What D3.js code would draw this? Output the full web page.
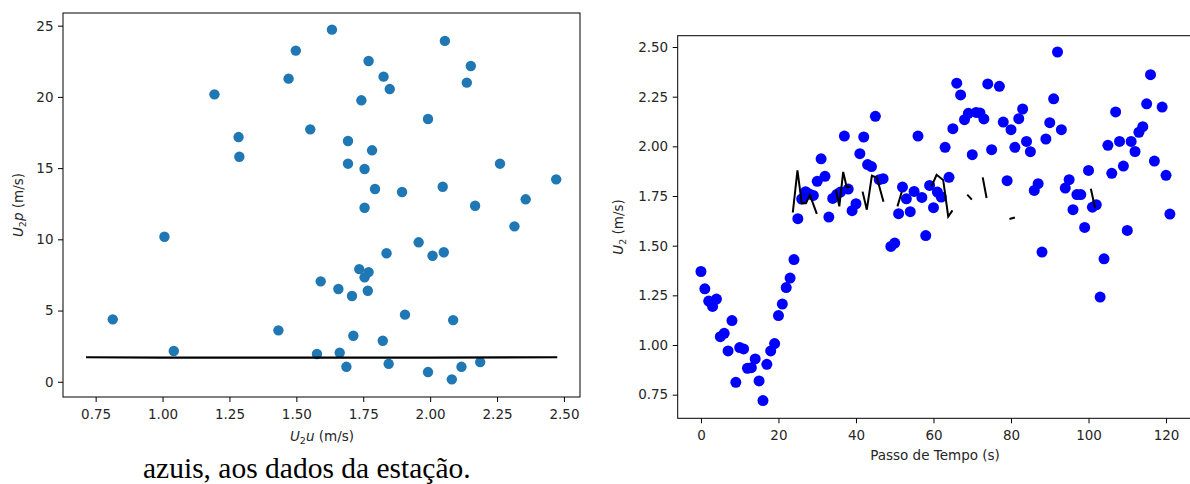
<!DOCTYPE html>
<html>
<head>
<meta charset="utf-8">
<script src="https://cdn.jsdelivr.net/npm/d3@7"></script>
<style>
  body { margin: 0; background: #fff; }
  svg { display: block; font-family: 'DejaVu Sans', sans-serif; }
</style>
</head>
<body>
<div id="chart"></div>
<script>
// left panel: U2u x U2p scatter
const u2u = [0.814, 1.007, 1.042, 1.194, 1.284, 1.287, 1.433, 1.471, 1.498, 1.552, 1.577, 1.591, 1.633, 1.657,
  1.662, 1.687, 1.693, 1.693, 1.708, 1.713, 1.735, 1.743, 1.755, 1.755, 1.755, 1.767, 1.770, 1.770, 1.783,
  1.794, 1.823, 1.826, 1.837, 1.845, 1.849, 1.895, 1.906, 1.957, 1.992, 1.992, 2.009, 2.047, 2.051, 2.055,
  2.081, 2.086, 2.117, 2.137, 2.152, 2.168, 2.187, 2.261, 2.315, 2.357, 2.471];
const u2p = [4.38, 10.18, 2.16, 20.18, 17.18, 15.80, 3.61, 21.28, 23.25, 17.72, 1.95, 7.05, 24.72, 6.51,
  2.04, 1.05, 16.90, 15.31, 6.02, 3.23, 7.91, 19.76, 14.94, 12.22, 7.33, 6.39, 22.52, 7.70, 16.25,
  13.53, 2.88, 21.42, 9.02, 1.26, 20.55, 13.32, 4.71, 9.79, 18.45, 0.68, 8.85, 13.69, 9.09, 23.93,
  0.17, 4.33, 1.05, 21.00, 22.17, 12.36, 1.38, 15.31, 10.91, 12.81, 14.21];
// black line in the left panel
const ajusteU = [0.714, 1.0, 1.6, 2.0, 2.475];
const ajusteP = [1.72, 1.70, 1.69, 1.70, 1.72];
const leftXTicks = [0.75, 1.0, 1.25, 1.5, 1.75, 2.0, 2.25, 2.5];
const leftYTicks = [0, 5, 10, 15, 20, 25];

// right panel: U2 over time
const passoTempo = [0, 1, 2, 3, 4, 5, 6, 7, 8, 9, 10, 11, 12, 13, 14, 15, 16, 17, 18, 19, 20, 21, 22, 23, 24,
  25, 26, 27, 28, 29, 30, 31, 32, 33, 34, 35, 36, 37, 38, 39, 40, 41, 42, 43, 44, 45, 46, 47, 49, 50,
  51, 52, 53, 54, 55, 56, 57, 58, 59, 60, 61, 62, 63, 64, 65, 66, 67, 68, 69, 70, 71, 72, 73, 74, 75,
  77, 78, 79, 80, 81, 82, 83, 84, 85, 86, 87, 88, 89, 90, 91, 92, 93, 94, 95, 96, 97, 98, 99, 100,
  101, 102, 103, 104, 105, 106, 107, 108, 109, 110, 111, 112, 113, 114, 115, 116, 117, 119, 120, 121];
const u2 = [1.370, 1.283, 1.221, 1.194, 1.231, 1.042, 1.059, 0.970, 1.123, 0.812, 0.987, 0.980, 0.883, 0.886,
  0.930, 0.819, 0.720, 0.903, 0.970, 1.007, 1.148, 1.206, 1.289, 1.337, 1.430,
  1.636, 1.735, 1.772, 1.760, 1.753, 1.824, 1.937, 1.849, 1.644, 1.738, 1.757, 1.770, 2.052, 1.785, 1.676,
  1.711, 1.963, 2.047, 1.908, 1.898, 2.151, 1.832, 1.837, 1.496, 1.513,
  1.661, 1.795, 1.736, 1.671, 1.773, 2.052, 1.743, 1.551, 1.803, 1.691, 1.770, 1.745, 1.995, 1.844, 2.089,
  2.318, 2.259, 2.134, 2.166, 1.958, 2.171, 2.168, 2.138, 2.314, 1.983,
  2.302, 2.122, 1.827, 2.084, 1.995, 2.139, 2.188, 2.025, 1.973, 1.778, 1.812, 1.468, 2.037, 2.119, 2.239,
  2.475, 2.084, 1.790, 1.832, 1.681, 1.757, 1.757, 1.592, 1.879,
  1.694, 1.706, 1.241, 1.434, 2.005, 1.864, 2.173, 2.025, 1.901, 1.577, 2.025, 1.974, 2.071, 2.099, 2.214,
  2.361, 1.926, 2.198, 1.854, 1.659];
// black broken line (null = gap)
const modeloT = [23.7, 24.9, 26.0, 27.1, 28.1, 29.9, null, 34.8, 35.7, 36.7, 37.6, 38.6, null,
  41.7, 42.8, 44.1, 45.4, 47.1, null, 50.7, 51.8, null, 59.5, 60.8, 62.5, 63.8, 64.9, null,
  68.7, 69.9, null, 72.7, 73.7, null, 79.6, 81.0, null, 100.6, 101.7];
const modeloU2 = [1.667, 1.879, 1.714, 1.714, 1.756, 1.660, null, 1.782, 1.698, 1.871, 1.795, 1.795, null,
  1.772, 1.681, 1.852, 1.842, 1.721, null, 1.698, 1.770, null, 1.798, 1.857, 1.831, 1.647, 1.678, null,
  1.757, 1.732, null, 1.844, 1.740, null, 1.634, 1.642, null, 1.787, 1.690];
const rightXTicks = [0, 20, 40, 60, 80, 100, 120];
const rightYTicks = [0.75, 1.0, 1.25, 1.5, 1.75, 2.0, 2.25, 2.5];

const legenda = 'azuis, aos dados da estação.';

const svg = d3.select('#chart')
  .append('svg')
  .attr('width', 1190)
  .attr('height', 484);

svg.append('rect').attr('width', 1190).attr('height', 484).attr('fill', '#fff');

const styleAxis = (g) => {
  g.select('.domain').remove();
  g.selectAll('.tick line').attr('stroke', '#000').attr('stroke-width', 1);
  g.selectAll('.tick text').attr('fill', '#262626').style('font-size', '13.5px')
    .style('font-family', "'DejaVu Sans', sans-serif");
};

const frame = (x, y) => {
  const [x0, x1] = x.range();
  const [y0, y1] = y.range();
  svg.append('rect')
    .attr('x', x0).attr('y', y1)
    .attr('width', x1 - x0).attr('height', y0 - y1)
    .attr('fill', 'none').attr('stroke', '#000').attr('stroke-width', 1);
};

// ---------- left panel ----------
const xL = d3.scaleLinear().domain([0.628, 2.56]).range([63, 580]);
const yL = d3.scaleLinear().domain([-1.07, 25.89]).range([397, 13]);

svg.append('g')
  .attr('transform', `translate(0,${yL.range()[0]})`)
  .call(d3.axisBottom(xL).tickValues(leftXTicks).tickFormat(d3.format('.2f')).tickSize(5).tickPadding(7))
  .call(styleAxis);
svg.append('g')
  .attr('transform', `translate(${xL.range()[0]},0)`)
  .call(d3.axisLeft(yL).tickValues(leftYTicks).tickFormat(d3.format('d')).tickSize(5).tickPadding(4.5))
  .call(styleAxis);

svg.append('g')
  .selectAll('circle')
  .data(d3.zip(u2u, u2p))
  .join('circle')
  .attr('cx', (d) => xL(d[0]))
  .attr('cy', (d) => yL(d[1]))
  .attr('r', 5.2)
  .attr('fill', '#1f77b4');

svg.append('path')
  .datum(d3.zip(ajusteU, ajusteP))
  .attr('fill', 'none')
  .attr('stroke', '#000')
  .attr('stroke-width', 2.2)
  .attr('d', d3.line().x((d) => xL(d[0])).y((d) => yL(d[1])));

frame(xL, yL);

const labL = svg.append('text')
  .attr('x', 322).attr('y', 441)
  .attr('text-anchor', 'middle')
  .attr('fill', '#262626')
  .style('font-size', '13.5px');
labL.append('tspan').style('font-style', 'italic').text('U');
labL.append('tspan').attr('dy', 3).style('font-size', '9.5px').text('2');
labL.append('tspan').attr('dy', -3).style('font-style', 'italic').text('u');
labL.append('tspan').text(' (m/s)');

const labLy = svg.append('text')
  .attr('transform', 'translate(23,205) rotate(-90)')
  .attr('text-anchor', 'middle')
  .attr('fill', '#262626')
  .style('font-size', '13.5px');
labLy.append('tspan').style('font-style', 'italic').text('U');
labLy.append('tspan').attr('dy', 3).style('font-size', '9.5px').text('2');
labLy.append('tspan').attr('dy', -3).style('font-style', 'italic').text('p');
labLy.append('tspan').text(' (m/s)');

// ---------- right panel ----------
const xR = d3.scaleLinear().domain([-6.0, 126.7]).range([677.7, 1192]);
const yR = d3.scaleLinear().domain([0.631, 2.557]).range([418.3, 35.7]);

svg.append('g')
  .attr('transform', `translate(0,${yR.range()[0]})`)
  .call(d3.axisBottom(xR).tickValues(rightXTicks).tickFormat(d3.format('d')).tickSize(5).tickPadding(7))
  .call(styleAxis);
svg.append('g')
  .attr('transform', `translate(${xR.range()[0]},0)`)
  .call(d3.axisLeft(yR).tickValues(rightYTicks).tickFormat(d3.format('.2f')).tickSize(5).tickPadding(4.5))
  .call(styleAxis);

svg.append('g')
  .selectAll('circle')
  .data(d3.zip(passoTempo, u2))
  .join('circle')
  .attr('cx', (d) => xR(d[0]))
  .attr('cy', (d) => yR(d[1]))
  .attr('r', 5.5)
  .attr('fill', '#0000ff');

svg.append('path')
  .datum(d3.zip(modeloT, modeloU2))
  .attr('fill', 'none')
  .attr('stroke', '#000')
  .attr('stroke-width', 2)
  .attr('stroke-linejoin', 'miter')
  .attr('d', d3.line()
    .defined((d) => d[0] !== null)
    .x((d) => xR(d[0]))
    .y((d) => yR(d[1])));

frame(xR, yR);

svg.append('text')
  .attr('x', 935).attr('y', 460)
  .attr('text-anchor', 'middle')
  .attr('fill', '#262626')
  .style('font-size', '13.5px')
  .text('Passo de Tempo (s)');

const labRy = svg.append('text')
  .attr('transform', 'translate(623,227) rotate(-90)')
  .attr('text-anchor', 'middle')
  .attr('fill', '#262626')
  .style('font-size', '13.5px');
labRy.append('tspan').style('font-style', 'italic').text('U');
labRy.append('tspan').attr('dy', 3).style('font-size', '9.5px').text('2');
labRy.append('tspan').attr('dy', -3).text(' (m/s)');

// caption below the charts
svg.append('text')
  .attr('x', 143).attr('y', 478)
  .attr('fill', '#000')
  .style('font-family', "'Liberation Serif', 'Times New Roman', serif")
  .style('font-size', '29.5px')
  .text(legenda);
</script>
</body>
</html>
